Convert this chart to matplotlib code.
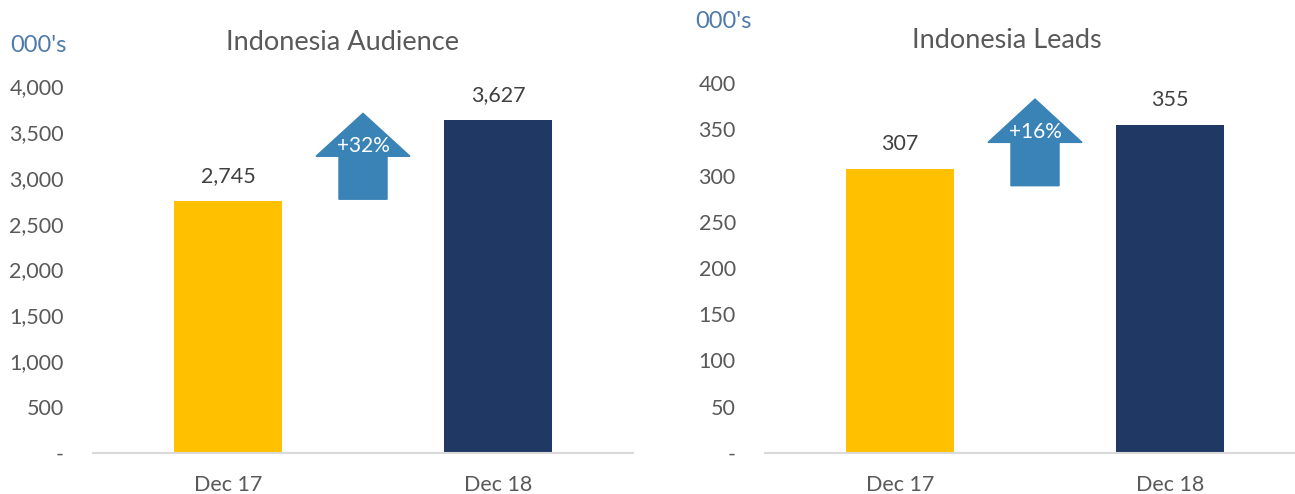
import matplotlib
matplotlib.use("Agg")
import matplotlib.pyplot as plt
from matplotlib.patches import Polygon
from matplotlib.transforms import blended_transform_factory
from matplotlib.ticker import FuncFormatter

plt.rcParams["font.family"] = ["Lato", "DejaVu Sans"]

categories = ["Dec 17", "Dec 18"]
audience = [2745, 3627]
leads = [307, 355]
audience_ticks = [0, 500, 1000, 1500, 2000, 2500, 3000, 3500, 4000]
leads_ticks = [0, 50, 100, 150, 200, 250, 300, 350, 400]
growth_labels = ["+32%", "+16%"]

BAR_COLORS = ["#FFC000", "#203864"]
ARROW_COLOR = "#3A83B7"
TICK_COLOR = "#595959"
LABEL_COLOR = "#404040"
UNIT_COLOR = "#4F7BAB"


def fmt_tick(v, _pos):
    return "-" if v == 0 else f"{v:,.0f}"


def draw_panel(ax, values, ticks, growth):
    x = range(len(categories))
    ax.bar(x, values, width=0.4, color=BAR_COLORS, zorder=2)
    ax.set_xlim(-0.5, len(categories) - 0.5)
    ax.set_ylim(ticks[0], ticks[-1])
    ax.set_yticks(ticks)
    ax.yaxis.set_major_formatter(FuncFormatter(fmt_tick))
    ax.set_xticks(list(x))
    ax.set_xticklabels(categories)
    ax.tick_params(axis="y", length=0, pad=21, labelsize=15.5, labelcolor=TICK_COLOR)
    ax.tick_params(axis="x", length=0, pad=16, labelsize=15.5, labelcolor=TICK_COLOR)
    for side in ("left", "right", "top"):
        ax.spines[side].set_visible(False)
    ax.spines["bottom"].set_color("#D9D9D9")
    ax.spines["bottom"].set_linewidth(1.5)

    for xi, v in zip(x, values):
        ax.annotate(f"{v:,}", (xi, v), xytext=(0, 25), textcoords="offset pixels",
                    ha="center", va="center", fontsize=15.5, color=LABEL_COLOR)

    # growth arrow between the bars, centred a bit above the mid of the two values
    trans = blended_transform_factory(ax.transData, ax.transAxes)
    xc = 0.5
    yc = (sum(values) / 2 - ticks[0]) / (ticks[-1] - ticks[0]) + 0.012
    half_h, head_w, shaft_w = 0.117, 0.174, 0.089
    head_base = yc
    verts = [
        (xc, yc + half_h),
        (xc + head_w, head_base),
        (xc + shaft_w, head_base),
        (xc + shaft_w, yc - half_h),
        (xc - shaft_w, yc - half_h),
        (xc - shaft_w, head_base),
        (xc - head_w, head_base),
    ]
    ax.add_patch(Polygon(verts, closed=True, transform=trans, color=ARROW_COLOR,
                         zorder=3, clip_on=False))
    ax.text(xc, yc + 0.027, growth, transform=trans, ha="center", va="center",
            fontsize=15, color="white", zorder=4)


fig = plt.figure(figsize=(12.95, 4.94), dpi=100)
ax1 = fig.add_axes([93 / 1295, 41 / 494, 540 / 1295, 367 / 494])
ax2 = fig.add_axes([765 / 1295, 41 / 494, 540 / 1295, 370 / 494])

draw_panel(ax1, audience, audience_ticks, growth_labels[0])
draw_panel(ax2, leads, leads_ticks, growth_labels[1])

fig.text(342 / 1295, 1 - 42 / 494, "Indonesia Audience", ha="center", va="center",
         fontsize=19.5, color=TICK_COLOR)
fig.text(1007 / 1295, 1 - 40 / 494, "Indonesia Leads", ha="center", va="center",
         fontsize=19.5, color=TICK_COLOR)
fig.text(10 / 1295, 1 - 45 / 494, "000's", ha="left", va="center",
         fontsize=17, color=UNIT_COLOR)
fig.text(695 / 1295, 1 - 22 / 494, "000's", ha="left", va="center",
         fontsize=17, color=UNIT_COLOR)

fig.savefig("out.png", dpi=100)
